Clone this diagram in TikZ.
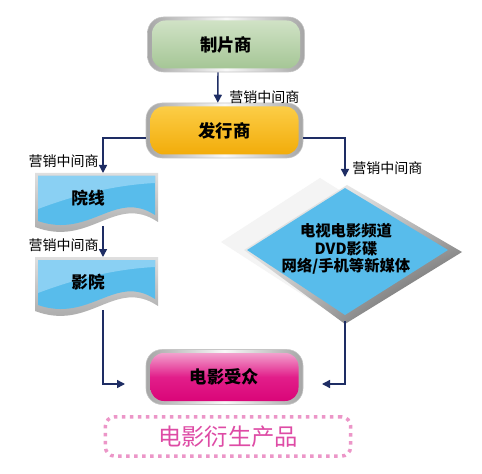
\documentclass[tikz,border=0pt]{standalone}
\usepackage{fontspec}
\newfontfamily\cjk{Noto Sans CJK SC}
\usetikzlibrary{arrows.meta,shadings}
\definecolor{navy}{RGB}{30,45,100}
\definecolor{gtop}{RGB}{208,226,198}
\definecolor{gbot}{RGB}{165,198,150}
\definecolor{otop}{RGB}{252,205,70}
\definecolor{obot}{RGB}{242,172,10}
\definecolor{ptop}{RGB}{242,160,205}
\definecolor{pmid}{RGB}{226,30,138}
\definecolor{pbot}{RGB}{218,5,120}
\definecolor{bluef}{RGB}{88,188,235}
\definecolor{bluel}{RGB}{138,208,243}
\definecolor{pinkdot}{RGB}{236,150,200}
\definecolor{pinktxt}{RGB}{222,75,165}
\tikzset{
 conn/.style={draw=navy, line width=1.1pt, -{Triangle[length=6pt,width=6pt]}},
 lab/.style={font=\cjk\fontsize{10.5}{12}\selectfont, text=black, inner sep=0},
 capout/.style={minimum width=117.75pt, minimum height=41.25pt, rounded corners=12pt,
   left color=gray!70, right color=gray!70, middle color=gray!5, draw=gray!45, line width=0.4pt, inner sep=0},
 capin/.style={minimum width=111pt, minimum height=36pt, rounded corners=10pt, inner sep=0,
   font=\cjk\bfseries\fontsize{13}{15}\selectfont},
 doctext/.style={font=\cjk\bfseries\fontsize{12.5}{14}\selectfont, inner sep=0},
 dmtext/.style={font=\cjk\bfseries\fontsize{11.5}{14}\selectfont, align=center, inner sep=0},
}
\begin{document}
\begin{tikzpicture}[x=0.75pt,y=-0.75pt]
\useasboundingbox[fill=white] (0,0) rectangle (482,474);

% capsules
\node[capout] (zpo) at (226,44.5) {};
\node[capin, top color=gtop, bottom color=gbot] (zp) at (zpo) {制片商};
\node[capout] (fxo) at (224.5,130.5) {};
\node[capin, top color=otop, bottom color=obot] (fx) at (fxo) {发行商};
\node[capout] (szo) at (224.5,377) {};
\node[capin, top color=ptop, bottom color=pbot, middle color=pmid] (sz) at (szo) {电影受众};

% document shapes
\foreach \yy/\nm in {173/yx, 257/yy}{
\begin{scope}[shift={(35,\yy)}]
 \shade[top color=gray!25, bottom color=gray!75]
   (0,0) -- (123,0) -- (123,49) .. controls (80,20) and (55,75) .. (0,54) -- cycle;
 \fill[bluef] (3,3) -- (120,3) -- (120,42) .. controls (80,16) and (55,66) .. (3,48) -- cycle;
 \fill[bluel] (3,3) -- (120,3) -- (120,10) .. controls (80,12) and (40,22) .. (3,36) -- cycle;
\end{scope}}
\node[doctext] (yx) at (88,198) {院线};
\node[doctext] (yy) at (88,282) {影院};
\coordinate (yxtop) at (103,173);
\coordinate (yxbot) at (103,226);
\coordinate (yytop) at (103,257);
\coordinate (yybot) at (103,310);

% diamond
\fill[gray!9] (320,178) -- (221,242) -- (320,306) -- (423,242) -- cycle;
\shade[upper left=gray!5, upper right=gray!35, lower left=gray!35, lower right=black!75]
  (347,185) -- (244,250) -- (345,324) -- (462,252) -- cycle;
\fill[bluef] (345,188) -- (247,250) -- (345,315) -- (448,250) -- cycle;
\node[dmtext] (dm) at (346,249) {电视电影频道\\[-1pt]DVD影碟\\[-1pt]网络/手机等新媒体};
\coordinate (dmtop) at (345,177);
\coordinate (dmbot) at (345,321);

% connectors
\draw[conn] ([xshift=-6pt]zpo.south) -- ([xshift=-5pt]fxo.north);
\draw[conn] ([yshift=-5.5pt]fxo.west) -| (yxtop);
\draw[conn] ([yshift=-5.5pt]fxo.east) -| (dmtop);
\draw[conn] (yxbot) -- (yytop);
\coordinate (szl) at (125,384);
\coordinate (szr) at (322,384);
\draw[conn] (yybot) |- (szl);
\draw[conn] (dmbot) |- (szr);

% labels
\node[lab, anchor=west] (l1) at (229,97) {营销中间商};
\node[lab, anchor=east] (l2) at (99,161) {营销中间商};
\node[lab, anchor=west] (l3) at (352,168) {营销中间商};
\node[lab, anchor=east] (l4) at (99,245) {营销中间商};

% derivative products
\node[draw=pinkdot, line width=2.6pt, dash pattern=on 2.6pt off 3.4pt, rounded corners=7pt,
  minimum width=184pt, minimum height=29.5pt, text=pinktxt,
  font=\cjk\fontsize{17.5}{20}\selectfont] (ys) at (228,436.5) {电影衍生产品};
\end{tikzpicture}
\end{document}
